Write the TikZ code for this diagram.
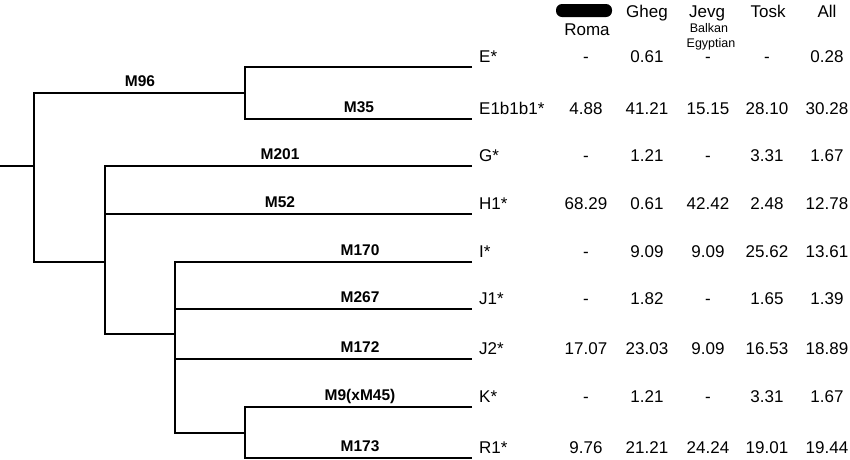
\documentclass[tikz,border=0pt]{standalone}
\usepackage{fontspec}
\setmainfont{Liberation Sans}
\usepackage{tikz}

\begin{document}
\begin{tikzpicture}[x=1pt, y=-1pt,
        branch/.style={line width=2.8pt, line join=miter},
        mlab/.style={anchor=base, inner sep=0pt, font=\fontsize{15.5}{18}\selectfont\bfseries},
        hap/.style={anchor=base west, inner sep=0pt, font=\fontsize{17}{20}\selectfont},
        val/.style={anchor=base, inner sep=0pt, font=\fontsize{17}{20}\selectfont},
        head/.style={anchor=base, inner sep=0pt, font=\fontsize{17}{20}\selectfont},
        subhead/.style={anchor=base, inner sep=0pt, font=\fontsize{12.5}{14}\selectfont}]
            \useasboundingbox (0,0) rectangle (850,459);

            \coordinate (root) at (0,166);
            \coordinate (n0) at (34,166);
            \coordinate (nE) at (245,93);
            \coordinate (nG) at (105,262);
            \coordinate (nI) at (175,334);
            \coordinate (nK) at (245,433);
            \coordinate (lE) at (472,67);
            \coordinate (lE1) at (472,119);
            \coordinate (lG) at (472,166);
            \coordinate (lH) at (472,214);
            \coordinate (lI) at (472,262);
            \coordinate (lJ1) at (472,309);
            \coordinate (lJ2) at (472,359);
            \coordinate (lK) at (472,407);
            \coordinate (lR) at (472,458);

            \draw[branch] (root) -- (n0);
            \draw[branch] (nE) -| (n0 |- nG) -- (nG);
            \draw[branch] (lE) -| (nE |- lE1) -- (lE1);
            \draw[branch] (lG) -| (nG |- nI) -- (nI);
            \draw[branch] (nG |- lH) -- (lH);
            \draw[branch] (lI) -| (nI |- nK) -- (nK);
            \draw[branch] (nI |- lJ1) -- (lJ1);
            \draw[branch] (nI |- lJ2) -- (lJ2);
            \draw[branch] (lK) -| (nK |- lR) -- (lR);

            \node[mlab] (m96) at (140,86) {M96};
            \node[mlab] (m35) at (359,112) {M35};
            \node[mlab] (m201) at (280,159) {M201};
            \node[mlab] (m52) at (280,207) {M52};
            \node[mlab] (m170) at (360,255) {M170};
            \node[mlab] (m267) at (360,302) {M267};
            \node[mlab] (m172) at (360,352) {M172};
            \node[mlab] (m9) at (360,400) {M9(xM45)};
            \node[mlab] (m173) at (360,451) {M173};

            \node[hap] (hE) at (479,62) {E*};
            \node[hap] (hE1) at (479,114) {E1b1b1*};
            \node[hap] (hG) at (479,161) {G*};
            \node[hap] (hH) at (479,209) {H1*};
            \node[hap] (hI) at (479,257) {I*};
            \node[hap] (hJ1) at (479,304) {J1*};
            \node[hap] (hJ2) at (479,354) {J2*};
            \node[hap] (hK) at (479,402) {K*};
            \node[hap] (hR) at (479,453) {R1*};

            \fill[black, rounded corners=6pt] (556,4) rectangle (612,17);
            \node[head] (cRoma) at (587,35) {Roma};
            \node[head] (cGheg) at (647,17) {Gheg};
            \node[head] (cJevg) at (707,17) {Jevg};
            \node[subhead] (cBalkan) at (709,32) {Balkan};
            \node[subhead] (cEgypt) at (711,47) {Egyptian};
            \node[head] (cTosk) at (768,17) {Tosk};
            \node[head] (cAll) at (827,17) {All};

            \node[val] (r1c1) at (586,62) {-};
            \node[val] (r1c2) at (647,62) {0.61};
            \node[val] (r1c3) at (708,62) {-};
            \node[val] (r1c4) at (767,62) {-};
            \node[val] (r1c5) at (827,62) {0.28};

            \node[val] (r2c1) at (586,114) {4.88};
            \node[val] (r2c2) at (647,114) {41.21};
            \node[val] (r2c3) at (708,114) {15.15};
            \node[val] (r2c4) at (767,114) {28.10};
            \node[val] (r2c5) at (827,114) {30.28};

            \node[val] (r3c1) at (586,161) {-};
            \node[val] (r3c2) at (647,161) {1.21};
            \node[val] (r3c3) at (708,161) {-};
            \node[val] (r3c4) at (767,161) {3.31};
            \node[val] (r3c5) at (827,161) {1.67};

            \node[val] (r4c1) at (586,209) {68.29};
            \node[val] (r4c2) at (647,209) {0.61};
            \node[val] (r4c3) at (708,209) {42.42};
            \node[val] (r4c4) at (767,209) {2.48};
            \node[val] (r4c5) at (827,209) {12.78};

            \node[val] (r5c1) at (586,257) {-};
            \node[val] (r5c2) at (647,257) {9.09};
            \node[val] (r5c3) at (708,257) {9.09};
            \node[val] (r5c4) at (767,257) {25.62};
            \node[val] (r5c5) at (827,257) {13.61};

            \node[val] (r6c1) at (586,304) {-};
            \node[val] (r6c2) at (647,304) {1.82};
            \node[val] (r6c3) at (708,304) {-};
            \node[val] (r6c4) at (767,304) {1.65};
            \node[val] (r6c5) at (827,304) {1.39};

            \node[val] (r7c1) at (586,354) {17.07};
            \node[val] (r7c2) at (647,354) {23.03};
            \node[val] (r7c3) at (708,354) {9.09};
            \node[val] (r7c4) at (767,354) {16.53};
            \node[val] (r7c5) at (827,354) {18.89};

            \node[val] (r8c1) at (586,402) {-};
            \node[val] (r8c2) at (647,402) {1.21};
            \node[val] (r8c3) at (708,402) {-};
            \node[val] (r8c4) at (767,402) {3.31};
            \node[val] (r8c5) at (827,402) {1.67};

            \node[val] (r9c1) at (586,453) {9.76};
            \node[val] (r9c2) at (647,453) {21.21};
            \node[val] (r9c3) at (708,453) {24.24};
            \node[val] (r9c4) at (767,453) {19.01};
            \node[val] (r9c5) at (827,453) {19.44};
        \end{tikzpicture}
\end{document}
